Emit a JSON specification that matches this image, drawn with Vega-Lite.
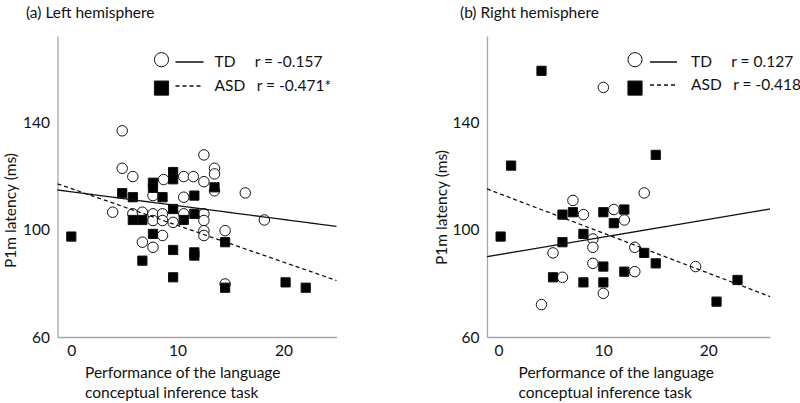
{
  "$schema": "https://vega.github.io/schema/vega-lite/v6.json",
  "padding": {"left": 3.5, "top": 5, "right": 0, "bottom": 0},
  "config": {
    "view": {"stroke": null},
    "font": "Lato",
    "axis": {
      "grid": false, "ticks": false, "tickSize": 0,
      "domainColor": "#a6a6a6", "domainWidth": 1.3,
      "labelFont": "Lato", "labelFontSize": 15.5, "labelColor": "#111111",
      "titleFont": "Lato", "titleFontSize": 15.5, "titleFontWeight": "normal", "titleColor": "#111111"
    },
    "legend": {
      "labelFont": "Lato", "labelFontSize": 15.5, "labelColor": "#111111", "padding": 0
    },
    "title": {"font": "Lato", "fontSize": 15.5, "fontWeight": "normal", "color": "#111111", "anchor": "start", "offset": 15}
  },
  "datasets": {
    "pts": [
      {"panel":"L","group":"TD","x":4.8,"y":137.0},
      {"panel":"L","group":"TD","x":4.8,"y":123.0},
      {"panel":"L","group":"TD","x":5.8,"y":119.9},
      {"panel":"L","group":"TD","x":8.7,"y":118.8},
      {"panel":"L","group":"TD","x":10.6,"y":119.9},
      {"panel":"L","group":"TD","x":11.5,"y":119.9},
      {"panel":"L","group":"TD","x":12.5,"y":128.0},
      {"panel":"L","group":"TD","x":12.5,"y":118.0},
      {"panel":"L","group":"TD","x":13.5,"y":123.0},
      {"panel":"L","group":"TD","x":13.5,"y":120.9},
      {"panel":"L","group":"TD","x":13.5,"y":114.6},
      {"panel":"L","group":"TD","x":16.4,"y":113.8},
      {"panel":"L","group":"TD","x":7.7,"y":112.8},
      {"panel":"L","group":"TD","x":10.6,"y":112.2},
      {"panel":"L","group":"TD","x":3.9,"y":106.6},
      {"panel":"L","group":"TD","x":5.8,"y":106.0},
      {"panel":"L","group":"TD","x":6.7,"y":106.6},
      {"panel":"L","group":"TD","x":7.7,"y":106.0},
      {"panel":"L","group":"TD","x":7.7,"y":103.5},
      {"panel":"L","group":"TD","x":8.6,"y":106.0},
      {"panel":"L","group":"TD","x":8.6,"y":103.5},
      {"panel":"L","group":"TD","x":9.6,"y":102.8},
      {"panel":"L","group":"TD","x":10.6,"y":106.0},
      {"panel":"L","group":"TD","x":12.5,"y":106.0},
      {"panel":"L","group":"TD","x":12.5,"y":103.5},
      {"panel":"L","group":"TD","x":12.5,"y":99.7},
      {"panel":"L","group":"TD","x":12.5,"y":97.9},
      {"panel":"L","group":"TD","x":14.5,"y":99.7},
      {"panel":"L","group":"TD","x":18.2,"y":103.7},
      {"panel":"L","group":"TD","x":8.6,"y":97.9},
      {"panel":"L","group":"TD","x":6.7,"y":95.4},
      {"panel":"L","group":"TD","x":7.7,"y":93.5},
      {"panel":"L","group":"TD","x":14.5,"y":79.8},
      {"panel":"L","group":"ASD","x":7.7,"y":117.6},
      {"panel":"L","group":"ASD","x":7.7,"y":115.7},
      {"panel":"L","group":"ASD","x":9.6,"y":121.6},
      {"panel":"L","group":"ASD","x":9.6,"y":118.9},
      {"panel":"L","group":"ASD","x":13.5,"y":115.9},
      {"panel":"L","group":"ASD","x":4.8,"y":113.7},
      {"panel":"L","group":"ASD","x":5.8,"y":112.2},
      {"panel":"L","group":"ASD","x":8.6,"y":112.2},
      {"panel":"L","group":"ASD","x":11.6,"y":112.8},
      {"panel":"L","group":"ASD","x":9.6,"y":107.8},
      {"panel":"L","group":"ASD","x":11.6,"y":106.0},
      {"panel":"L","group":"ASD","x":5.8,"y":103.7},
      {"panel":"L","group":"ASD","x":6.7,"y":103.7},
      {"panel":"L","group":"ASD","x":10.6,"y":103.7},
      {"panel":"L","group":"ASD","x":0.0,"y":97.5},
      {"panel":"L","group":"ASD","x":7.7,"y":98.5},
      {"panel":"L","group":"ASD","x":14.5,"y":95.4},
      {"panel":"L","group":"ASD","x":9.6,"y":92.5},
      {"panel":"L","group":"ASD","x":11.6,"y":91.6},
      {"panel":"L","group":"ASD","x":11.6,"y":90.4},
      {"panel":"L","group":"ASD","x":6.7,"y":88.5},
      {"panel":"L","group":"ASD","x":9.6,"y":82.3},
      {"panel":"L","group":"ASD","x":14.5,"y":78.4},
      {"panel":"L","group":"ASD","x":20.2,"y":80.4},
      {"panel":"L","group":"ASD","x":22.1,"y":78.4},
      {"panel":"R","group":"TD","x":10.0,"y":153.2},
      {"panel":"R","group":"TD","x":13.9,"y":113.8},
      {"panel":"R","group":"TD","x":7.1,"y":111.0},
      {"panel":"R","group":"TD","x":8.1,"y":105.7},
      {"panel":"R","group":"TD","x":11.0,"y":107.6},
      {"panel":"R","group":"TD","x":12.0,"y":103.7},
      {"panel":"R","group":"TD","x":9.0,"y":96.6},
      {"panel":"R","group":"TD","x":9.0,"y":93.5},
      {"panel":"R","group":"TD","x":5.2,"y":91.4},
      {"panel":"R","group":"TD","x":13.0,"y":93.5},
      {"panel":"R","group":"TD","x":9.0,"y":87.5},
      {"panel":"R","group":"TD","x":13.0,"y":84.4},
      {"panel":"R","group":"TD","x":18.8,"y":86.3},
      {"panel":"R","group":"TD","x":6.1,"y":82.3},
      {"panel":"R","group":"TD","x":10.0,"y":76.3},
      {"panel":"R","group":"TD","x":4.1,"y":72.1},
      {"panel":"R","group":"ASD","x":4.1,"y":159.4},
      {"panel":"R","group":"ASD","x":1.2,"y":124.0},
      {"panel":"R","group":"ASD","x":15.0,"y":128.0},
      {"panel":"R","group":"ASD","x":6.1,"y":105.7},
      {"panel":"R","group":"ASD","x":7.1,"y":106.6},
      {"panel":"R","group":"ASD","x":10.0,"y":106.6},
      {"panel":"R","group":"ASD","x":12.0,"y":107.6},
      {"panel":"R","group":"ASD","x":11.0,"y":102.5},
      {"panel":"R","group":"ASD","x":0.2,"y":97.5},
      {"panel":"R","group":"ASD","x":8.1,"y":98.5},
      {"panel":"R","group":"ASD","x":6.1,"y":95.4},
      {"panel":"R","group":"ASD","x":13.9,"y":91.4},
      {"panel":"R","group":"ASD","x":15.0,"y":87.5},
      {"panel":"R","group":"ASD","x":10.0,"y":86.3},
      {"panel":"R","group":"ASD","x":12.0,"y":84.4},
      {"panel":"R","group":"ASD","x":5.2,"y":82.3},
      {"panel":"R","group":"ASD","x":8.1,"y":80.4},
      {"panel":"R","group":"ASD","x":10.0,"y":80.4},
      {"panel":"R","group":"ASD","x":22.8,"y":81.3},
      {"panel":"R","group":"ASD","x":20.8,"y":73.2}
    ],
    "fits": [
      {"panel":"L","fit":"TD","x":-1.3,"y":114.9},
      {"panel":"L","fit":"TD","x":25.0,"y":101.3},
      {"panel":"L","fit":"ASD","x":-1.3,"y":117.2},
      {"panel":"L","fit":"ASD","x":25.0,"y":81.1},
      {"panel":"R","fit":"TD","x":-1.1,"y":90.0},
      {"panel":"R","fit":"TD","x":25.9,"y":107.8},
      {"panel":"R","fit":"ASD","x":-1.1,"y":115.3},
      {"panel":"R","fit":"ASD","x":25.9,"y":75.1}
    ]
  },
  "spacing": 94.5,
  "resolve": {
    "scale": {"x": "independent", "y": "independent", "shape": "independent", "fill": "independent", "size": "independent", "strokeDash": "independent"},
    "legend": {"shape": "independent", "fill": "independent", "strokeDash": "independent"}
  },
  "hconcat": [
    {
      "width": 279, "height": 301,
      "title": {"text": "(a) Left hemisphere", "frame": "bounds", "dx": 22.5},
      "layer": [
        {
          "data": {"name": "pts"},
          "transform": [{"filter": "datum.panel === 'L'"}],
          "mark": {"type": "point", "filled": true, "stroke": "#111111", "strokeWidth": 1, "opacity": 1},
          "encoding": {
            "x": {"field": "x", "type": "quantitative", "scale": {"domain": [-1.3, 25.0], "nice": false, "zero": false},
              "axis": {"values": [0, 10, 20], "labelPadding": 6, "title": ["Performance of the language", "conceptual inference task"], "titleAlign": "left", "titleBaseline": "top", "titleX": 27, "titleY": 28, "titleLineHeight": 20}},
            "y": {"field": "y", "type": "quantitative", "scale": {"domain": [60, 172.4], "nice": false, "zero": false},
              "axis": {"values": [60, 100, 140], "labelPadding": 8, "title": "P1m latency (ms)", "titleBaseline": "middle", "titleX": -47, "titleY": 174}},
            "shape": {"field": "group", "type": "nominal", "scale": {"domain": ["TD", "ASD"], "range": ["circle", "square"]},
              "legend": {"orient": "none", "legendX": 96, "legendY": 15.7, "title": null, "labelExpr": "''", "symbolSize": 200, "symbolStrokeWidth": 1, "rowPadding": 8.4}},
            "fill": {"field": "group", "type": "nominal", "scale": {"domain": ["TD", "ASD"], "range": ["white", "black"]},
              "legend": {"orient": "none", "legendX": 96, "legendY": 15.7, "title": null, "labelExpr": "''", "symbolSize": 200, "symbolStrokeWidth": 1, "rowPadding": 8.4}},
            "size": {"field": "group", "type": "nominal", "sort": "descending", "scale": {"range": [110, 85]}, "legend": null}
          }
        },
        {
          "data": {"name": "fits"},
          "transform": [{"filter": "datum.panel === 'L'"}],
          "mark": {"type": "line", "color": "#111111", "strokeWidth": 1.3},
          "encoding": {
            "x": {"field": "x", "type": "quantitative"},
            "y": {"field": "y", "type": "quantitative"},
            "strokeDash": {"field": "fit", "type": "nominal", "sort": "descending", "scale": {"range": [[1, 0], [4, 3]]},
              "legend": {"orient": "none", "legendX": 117, "legendY": 11, "title": null, "symbolType": "stroke", "symbolSize": 784, "symbolStrokeColor": "#111111", "symbolStrokeWidth": 1.3, "labelOffset": 10, "rowPadding": -1,
                "labelExpr": "datum.label == 'TD' ? 'TD\u2003\u2002r = -0.157' : 'ASD\u2003r = -0.471*'"}}
          }
        }
      ]
    },
    {
      "width": 283, "height": 301,
      "title": {"text": "(b) Right hemisphere", "frame": "group", "dx": -27},
      "layer": [
        {
          "data": {"name": "pts"},
          "transform": [{"filter": "datum.panel === 'R'"}],
          "mark": {"type": "point", "filled": true, "stroke": "#111111", "strokeWidth": 1, "opacity": 1},
          "encoding": {
            "x": {"field": "x", "type": "quantitative", "scale": {"domain": [-1.1, 25.9], "nice": false, "zero": false},
              "axis": {"values": [0, 10, 20], "labelPadding": 6, "title": ["Performance of the language", "conceptual inference task"], "titleAlign": "left", "titleBaseline": "top", "titleX": 31, "titleY": 28, "titleLineHeight": 20}},
            "y": {"field": "y", "type": "quantitative", "scale": {"domain": [60, 172.4], "nice": false, "zero": false},
              "axis": {"values": [60, 100, 140], "labelPadding": 8, "title": "P1m latency (ms)", "titleBaseline": "middle", "titleX": -46, "titleY": 171}},
            "shape": {"field": "group", "type": "nominal", "scale": {"domain": ["TD", "ASD"], "range": ["circle", "square"]},
              "legend": {"orient": "none", "legendX": 140, "legendY": 15.7, "title": null, "labelExpr": "''", "symbolSize": 200, "symbolStrokeWidth": 1, "rowPadding": 8.4}},
            "fill": {"field": "group", "type": "nominal", "scale": {"domain": ["TD", "ASD"], "range": ["white", "black"]},
              "legend": {"orient": "none", "legendX": 140, "legendY": 15.7, "title": null, "labelExpr": "''", "symbolSize": 200, "symbolStrokeWidth": 1, "rowPadding": 8.4}},
            "size": {"field": "group", "type": "nominal", "sort": "descending", "scale": {"range": [110, 85]}, "legend": null}
          }
        },
        {
          "data": {"name": "fits"},
          "transform": [{"filter": "datum.panel === 'R'"}],
          "mark": {"type": "line", "color": "#111111", "strokeWidth": 1.3},
          "encoding": {
            "x": {"field": "x", "type": "quantitative"},
            "y": {"field": "y", "type": "quantitative"},
            "strokeDash": {"field": "fit", "type": "nominal", "sort": "descending", "scale": {"range": [[1, 0], [4, 3]]},
              "legend": {"orient": "none", "legendX": 162, "legendY": 11.5, "title": null, "symbolType": "stroke", "symbolSize": 729, "symbolStrokeColor": "#111111", "symbolStrokeWidth": 1.3, "labelOffset": 13, "rowPadding": -1,
                "labelExpr": "datum.label == 'TD' ? 'TD\u2003\u2002r = 0.127' : 'ASD\u2003r = -0.418'"}}
          }
        }
      ]
    }
  ]
}
